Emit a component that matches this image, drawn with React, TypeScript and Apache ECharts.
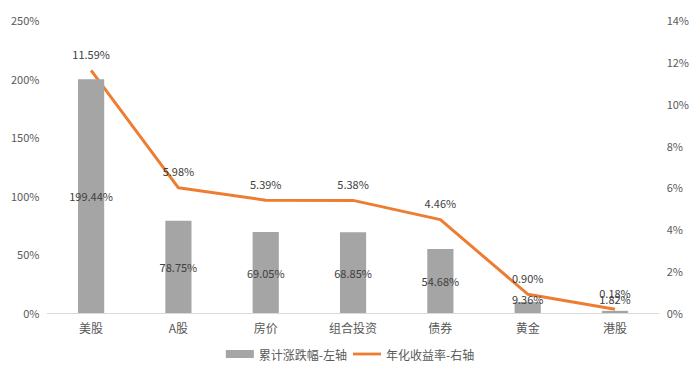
import React, { useEffect, useRef } from "react";
import * as echarts from "echarts";

const categories = ["美股", "A股", "房价", "组合投资", "债券", "黄金", "港股"];
const cumulative = [199.44, 78.75, 69.05, 68.85, 54.68, 9.36, 1.82];
const annualized = [11.59, 5.98, 5.39, 5.38, 4.46, 0.9, 0.18];
const seriesNames = ["累计涨跌幅-左轴", "年化收益率-右轴"];

const FONT = "'Noto Sans CJK SC', 'Noto Sans', sans-serif";
const TEXT = "#595959";

export default function App() {
  const ref = useRef<HTMLDivElement>(null);
  useEffect(() => {
    if (!ref.current) return;
    const chart = echarts.init(ref.current, undefined, { renderer: "svg" });
    chart.setOption({
      animation: false,
      textStyle: { fontFamily: FONT, color: TEXT },
      grid: { left: 36, right: 25, top: 12, bottom: 52, containLabel: false },
      legend: {
        bottom: 0,
        left: "center",
        itemWidth: 28,
        itemHeight: 8,
        itemGap: 6,
        textStyle: { fontFamily: FONT, color: TEXT, fontSize: 12 },
        data: [
          { name: seriesNames[0], icon: "rect" },
          { name: seriesNames[1], icon: "path://M0,0H30V3H0Z" },
        ],
      },
      xAxis: {
        type: "category",
        data: categories,
        axisLine: { lineStyle: { color: "#d9d9d9", width: 1 } },
        axisTick: { show: false },
        axisLabel: { color: TEXT, fontSize: 12, fontFamily: FONT, margin: 8 },
      },
      yAxis: [
        {
          type: "value",
          min: 0,
          max: 250,
          interval: 50,
          splitLine: { show: false },
          axisLine: { show: false },
          axisTick: { show: false },
          axisLabel: { color: TEXT, fontSize: 11, fontFamily: FONT, formatter: "{value}%", margin: 8 },
        },
        {
          type: "value",
          min: 0,
          max: 14,
          interval: 2,
          splitLine: { show: false },
          axisLine: { show: false },
          axisTick: { show: false },
          axisLabel: { color: TEXT, fontSize: 11, fontFamily: FONT, formatter: "{value}%", margin: 8 },
        },
      ],
      series: [
        {
          name: seriesNames[0],
          type: "bar",
          yAxisIndex: 0,
          z: 3,
          data: cumulative.map((v) =>
            v < 20 ? { value: v, label: { position: "insideBottom", distance: 9 } } : v
          ),
          barWidth: "30%",
          itemStyle: { color: "#a5a5a5" },
          label: {
            show: true,
            position: "inside",
            color: "#404040",
            fontSize: 11,
            fontFamily: FONT,
            formatter: (p: any) => Number(p.value).toFixed(2) + "%",
          },
        },
        {
          name: seriesNames[1],
          type: "line",
          yAxisIndex: 1,
          z: 2,
          data: annualized,
          symbol: "circle",
          symbolSize: 0.1,
          showSymbol: true,
          lineStyle: { color: "#ed7d31", width: 3 },
          itemStyle: { color: "#ed7d31" },
          label: {
            show: true,
            position: "top",
            distance: 11,
            color: "#404040",
            fontSize: 11,
            fontFamily: FONT,
            formatter: (p: any) => Number(p.value).toFixed(2) + "%",
          },
        },
      ],
    });
    return () => chart.dispose();
  }, []);
  return <div ref={ref} style={{ width: 684, height: 357 }} />;
}
